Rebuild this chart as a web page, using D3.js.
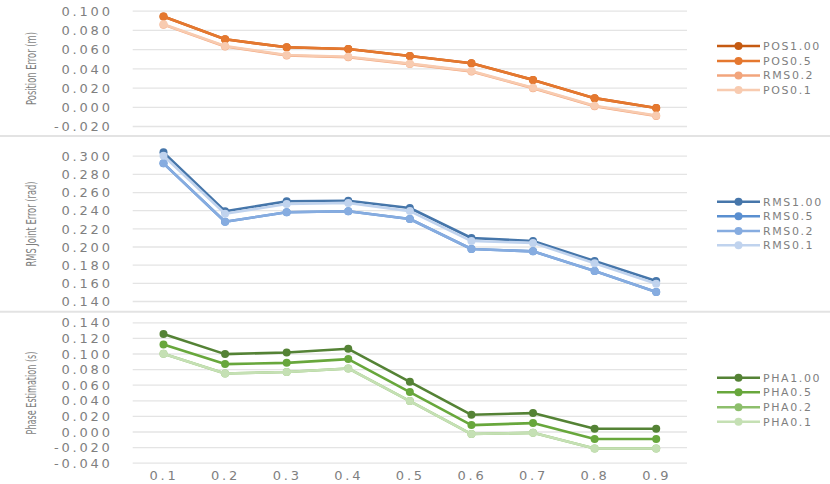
<!DOCTYPE html>
<html><head><meta charset="utf-8">
<script src="https://cdn.jsdelivr.net/npm/d3@7"></script>
<style>
body{margin:0;background:#fff;}
svg{display:block;}
.tick text{font-family:"DejaVu Sans",sans-serif;fill:#7f7f7f;}
</style></head>
<body><svg id="c" width="830" height="484"></svg>
<script>
const categories = ["0.1","0.2","0.3","0.4","0.5","0.6","0.7","0.8","0.9"];

const posNames = ["POS1.00","POS0.5","RMS0.2","POS0.1"];
const pos100 = [0.094,0.0702,0.0619,0.0601,0.0529,0.0453,0.028,0.009,-0.0013];
const pos05  = [0.094,0.0702,0.0619,0.0601,0.0529,0.0453,0.028,0.009,-0.0013];
const pos02  = [0.0855,0.0627,0.0534,0.0516,0.0444,0.0368,0.0192,0.0005,-0.0095];
const pos01  = [0.0860,0.0632,0.0539,0.0521,0.0449,0.0373,0.0197,0.0010,-0.0090];
const posTicks = [-0.02,0,0.02,0.04,0.06,0.08,0.1];

const rmsNames = ["RMS1.00","RMS0.5","RMS0.2","RMS0.1"];
const rms100 = [0.3037,0.2388,0.2498,0.2504,0.2424,0.2094,0.2060,0.1840,0.1620];
const rms05  = [0.2916,0.2273,0.2377,0.2388,0.2303,0.1973,0.1947,0.1730,0.1500];
const rms02  = [0.2916,0.2273,0.2377,0.2388,0.2303,0.1973,0.1947,0.1730,0.1500];
const rms01  = [0.3000,0.2360,0.2468,0.2480,0.2390,0.2060,0.2040,0.1815,0.1590];
const rmsTicks = [0.14,0.16,0.18,0.2,0.22,0.24,0.26,0.28,0.3];

const phaNames = ["PHA1.00","PHA0.5","PHA0.2","PHA0.1"];
const pha100 = [0.1249,0.0992,0.1013,0.1060,0.0637,0.0214,0.0236,0.0035,0.0035];
const pha05  = [0.1115,0.0864,0.0880,0.0928,0.0505,0.0082,0.0108,-0.0097,-0.0097];
const pha02  = [0.0996,0.0744,0.0762,0.0808,0.0390,-0.0033,-0.0017,-0.0218,-0.0218];
const pha01  = [0.0996,0.0744,0.0762,0.0808,0.0390,-0.0033,-0.0017,-0.0218,-0.0218];
const phaTicks = [-0.04,-0.02,0,0.02,0.04,0.06,0.08,0.1,0.12,0.14];

const posColors = ["#c55a11","#e5782f","#f2a57c","#f8cbb0"];
const rmsColors = ["#4676aa","#5a8fd0","#86ace0","#c0d3ee"];
const phaColors = ["#548235","#68a73c","#8dbf6c","#c5e0b4"];

const svg = d3.select("#c");
const x0 = 132.7, x1 = 687;
const x = d3.scalePoint().domain(categories).range([x0, x1]).padding(0.5);
const fmt = d => d3.format(".3f")(d).replace("\u2212","-");

// separators
[136, 311.7].forEach(yy => svg.append("line").attr("x1",0).attr("x2",830).attr("y1",yy).attr("y2",yy)
  .attr("stroke","#e3e3e3").attr("stroke-width",2));

const panels = [
  {names:posNames, series:[pos100,pos05,pos02,pos01], colors:posColors, ticks:posTicks, dom:[-0.02,0.1], rng:[126,10.7],
   title:"Position Error (m)", tlen:73, tcy:68.5, legY:[46,61,75.5,90]},
  {names:rmsNames, series:[rms100,rms05,rms02,rms01], colors:rmsColors, ticks:rmsTicks, dom:[0.14,0.3], rng:[301,155.7],
   title:"RMS Joint Error (rad)", tlen:85, tcy:224, legY:[201.7,216.3,231,245.3]},
  {names:phaNames, series:[pha100,pha05,pha02,pha01], colors:phaColors, ticks:phaTicks, dom:[-0.04,0.14], rng:[462.7,322.3],
   title:"Phase Estimation (s)", tlen:83, tcy:393, legY:[377.7,392.3,407.3,421.7]}
];

panels.forEach(p => {
  const y = d3.scaleLinear().domain(p.dom).range(p.rng);
  const ax = svg.append("g").attr("transform",`translate(${x0},0)`)
    .call(d3.axisLeft(y).tickValues(p.ticks).tickFormat(fmt).tickSize(-(x1-x0)).tickPadding(20));
  ax.select(".domain").remove();
  ax.selectAll(".tick line").attr("stroke","#e4e4e4").attr("stroke-width",1.3);
  ax.selectAll(".tick text").attr("font-size",13).attr("letter-spacing","2.8px").attr("dy","0.36em");

  const t = svg.append("text")
    .attr("text-anchor","middle").attr("dy","0.35em")
    .attr("font-family","'Liberation Sans Narrow', 'DejaVu Sans Condensed', Roboto, sans-serif")
    .attr("font-size",14).attr("fill","#7f7f7f").text(p.title);
  const len = t.node().getComputedTextLength();
  const sx = Math.min(1, p.tlen / len);
  t.attr("transform",`translate(31,${p.tcy}) rotate(-90) scale(${sx},1)`);

  const line = d3.line().x((d,i)=>x(categories[i])).y(d=>y(d));
  p.series.forEach((s,k) => {
    const g = svg.append("g");
    g.append("path").datum(s).attr("d",line).attr("fill","none").attr("stroke",p.colors[k])
      .attr("stroke-width",2.6).attr("stroke-linejoin","round");
    g.selectAll("circle").data(s).join("circle").attr("cx",(d,i)=>x(categories[i])).attr("cy",d=>y(d))
      .attr("r",4).attr("fill",p.colors[k]);
  });

  p.names.forEach((n,k) => {
    const ly = p.legY[k];
    svg.append("line").attr("x1",717).attr("x2",760).attr("y1",ly).attr("y2",ly)
      .attr("stroke",p.colors[k]).attr("stroke-width",2.6);
    svg.append("circle").attr("cx",738.5).attr("cy",ly).attr("r",4).attr("fill",p.colors[k]);
    svg.append("text").attr("x",763).attr("y",ly).attr("dy","0.36em")
      .attr("font-family","DejaVu Sans, sans-serif").attr("font-size",11).attr("letter-spacing","1.6px")
      .attr("fill","#7f7f7f").text(n);
  });
});

const xa = svg.append("g").attr("transform","translate(0,466)")
  .call(d3.axisBottom(x).tickSize(0).tickPadding(5));
xa.select(".domain").remove();
xa.selectAll(".tick text").attr("font-size",13).attr("letter-spacing","2.8px");
</script></body></html>
